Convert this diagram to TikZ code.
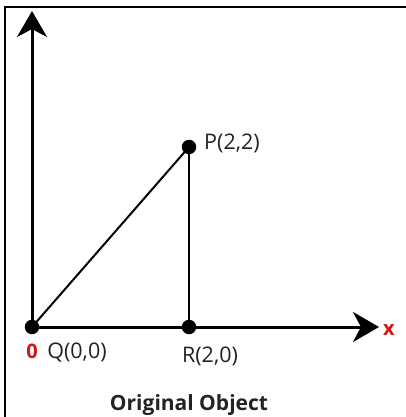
\documentclass[tikz,border=0pt]{standalone}
\usepackage{fontspec}
\setmainfont{Open Sans}
\usetikzlibrary{arrows.meta}
\definecolor{lblred}{RGB}{215,20,20}
\definecolor{lbltext}{RGB}{35,35,35}
\begin{document}
\begin{tikzpicture}[x=1pt,y=-1pt,
  axisline/.style={line width=3pt,-{Stealth[length=26pt,width=30pt,inset=8pt]}},
  edgeline/.style={line width=2pt},
  frameline/.style={line width=1.4pt},
  dotnode/.style={circle,fill=black,inner sep=0pt,minimum size=14.5pt},
  lbl/.style={font=\fontsize{21.5}{25}\selectfont,text=lbltext,inner sep=0pt,anchor=base},
  redlbl/.style={font=\fontsize{20}{24}\selectfont\bfseries,text=lblred,inner sep=0pt,anchor=base},
  titlelbl/.style={font=\fontsize{21}{25}\selectfont\bfseries,text=lbltext,inner sep=0pt,anchor=base}]
\useasboundingbox (0,0) rectangle (406,417);
% frame (top and left only)
\coordinate (fTR) at (406,7);
\coordinate (fTL) at (5,7);
\coordinate (fBL) at (5,417);
\draw[frameline] (fTR) -- (fTL) -- (fBL);
% points
\coordinate (Qc) at (32,327);
\coordinate (Rc) at (189,327);
\coordinate (Pc) at (189,147);
\coordinate (ytip) at (32,11);
\coordinate (xtip) at (379,327);
% axes
\draw[axisline] (Qc) -- (ytip);
\draw[axisline] (Qc) -- (xtip);
% triangle edges
\draw[edgeline] (Qc) -- (Pc);
\draw[edgeline] (Pc) -- (Rc);
% dots
\node[dotnode] (Q) at (Qc) {};
\node[dotnode] (R) at (Rc) {};
\node[dotnode] (P) at (Pc) {};
% labels
\node[redlbl] (zero) at (32,358) {0};
\node[lbl] (Qlbl) at (77,358) {Q(0,0)};
\node[lbl] (Rlbl) at (210,362) {R(2,0)};
\node[lbl,anchor=base west] (Plbl) at (204,149) {P(2,2)};
\node[redlbl] (xlbl) at (389,335) {x};
\node[titlelbl] (title) at (189,410) {Original Object};
\end{tikzpicture}
\end{document}
